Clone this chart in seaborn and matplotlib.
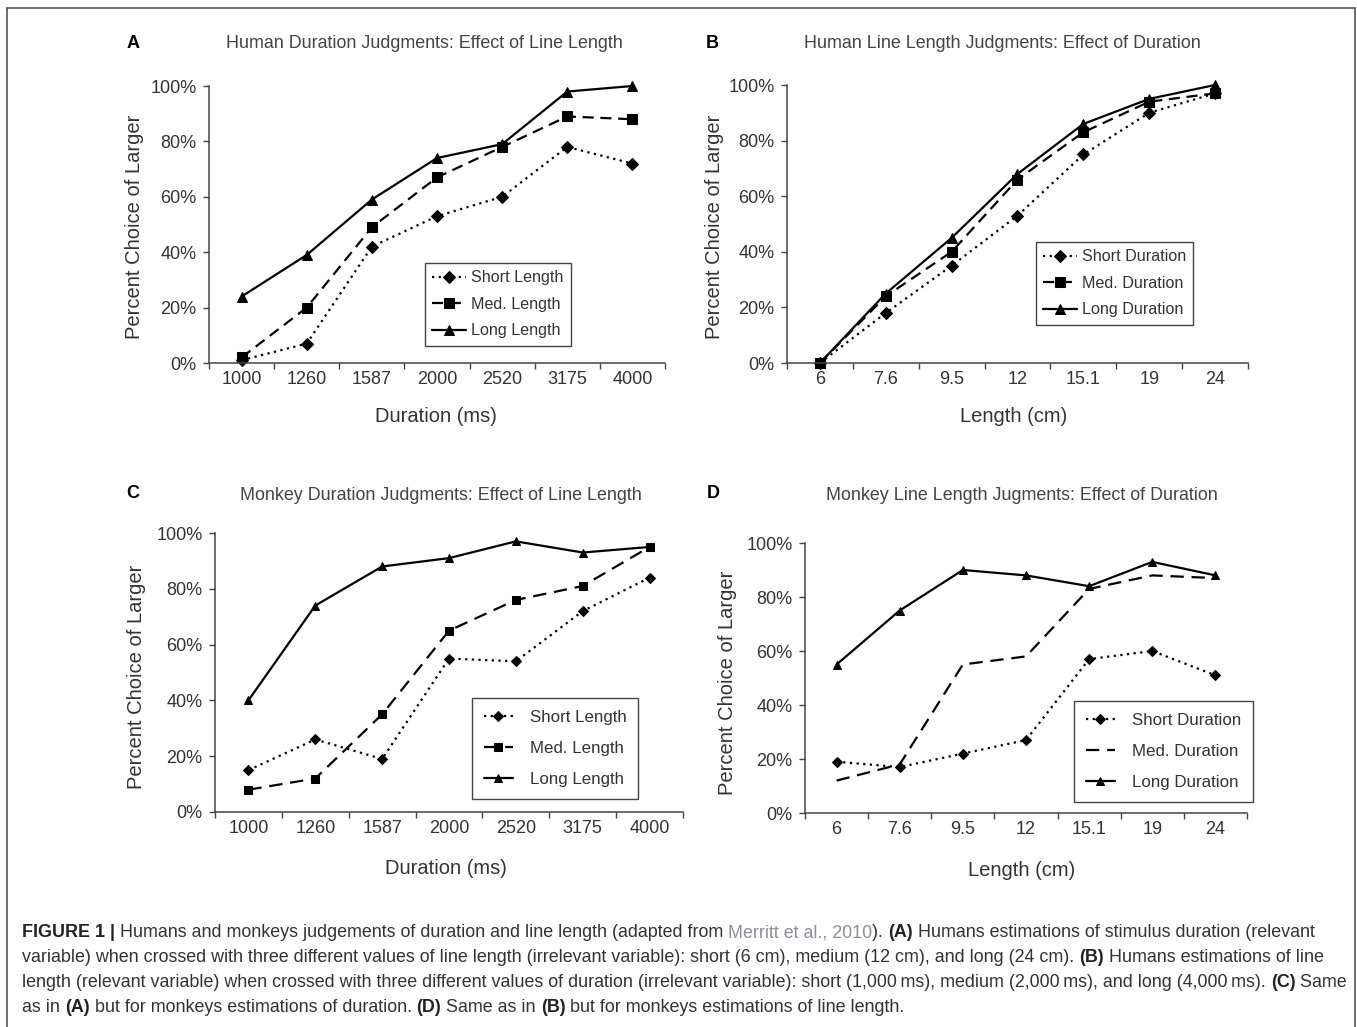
import matplotlib
matplotlib.use('Agg')
import matplotlib.pyplot as plt
import seaborn as sns
import numpy as np
from matplotlib.ticker import PercentFormatter
from matplotlib.lines import Line2D

# Data (percent choice of "larger")
duration_ticks = ['1000', '1260', '1587', '2000', '2520', '3175', '4000']
length_ticks = ['6', '7.6', '9.5', '12', '15.1', '19', '24']

# A: human duration judgments
a_short = [1, 7, 42, 53, 60, 78, 72]
a_med = [2, 20, 49, 67, 78, 89, 88]
a_long = [24, 39, 59, 74, 79, 98, 100]
# B: human line length judgments
b_short = [0, 18, 35, 53, 75, 90, 97]
b_med = [0, 24, 40, 66, 83, 94, 97]
b_long = [0, 25, 45, 68, 86, 95, 100]
# C: monkey duration judgments
c_short = [15, 26, 19, 55, 54, 72, 84]
c_med = [8, 12, 35, 65, 76, 81, 95]
c_long = [40, 74, 88, 91, 97, 93, 95]
# D: monkey line length judgments
d_short = [19, 17, 22, 27, 57, 60, 51]
d_med = [12, 18, 55, 58, 83, 88, 87]
d_long = [55, 75, 90, 88, 84, 93, 88]

length_names = ['Short Length', 'Med. Length', 'Long Length']
duration_names = ['Short Duration', 'Med. Duration', 'Long Duration']

W, H = 1357, 1027
sns.set_style('ticks')
plt.rcParams['font.family'] = ['Liberation Sans', 'DejaVu Sans']

fig = plt.figure(figsize=(W / 100, H / 100), dpi=100)
fig.patch.set_facecolor('white')

TXT = '#333333'
DOT = (0, (1, 2))
DASH = (0, (5, 3))
LDASH = (0, (6, 3.5))


def fx(x):
    return x / W


def fy(y):
    return 1 - y / H


def draw_panel(box, ticks, series, letter, title, title_xy, letter_xy,
               xlabel, xlabel_xy, ylabel_xy, leg_xy, leg_style):
    l, t, r, b = box
    ax = fig.add_axes([fx(l), fy(b), (r - l) / W, (b - t) / H])
    x = list(range(len(ticks)))
    for name, vals, marker, ls, ms in series:
        kw = dict(marker=marker, markersize=ms) if marker else dict()
        sns.lineplot(x=x, y=vals, ax=ax, color='black', lw=1.6,
                     linestyle=ls, label=name, markeredgecolor='black',
                     clip_on=False, **kw)
    ax.set_xlim(-0.5, len(ticks) - 0.5)
    ax.set_ylim(0, 100)
    ax.set_yticks(range(0, 101, 20))
    ax.yaxis.set_major_formatter(PercentFormatter(100, decimals=0))
    ax.set_xticks(np.arange(-0.5, len(ticks), 1))
    ax.set_xticklabels([])
    ax.set_xticks(x, minor=True)
    ax.set_xticklabels(ticks, minor=True)
    ax.tick_params(axis='x', which='major', length=4, width=1,
                   color='#444444', direction='out')
    ax.tick_params(axis='x', which='minor', length=0, pad=6,
                   labelsize=13, labelcolor=TXT)
    ax.tick_params(axis='y', length=4, width=1, color='#444444', pad=5,
                   labelsize=13, labelcolor=TXT)
    for s in ['top', 'right']:
        ax.spines[s].set_visible(False)
    for s in ['left', 'bottom']:
        ax.spines[s].set_color('#444444')
        ax.spines[s].set_linewidth(1.1)
    ax.set_xlabel('')
    ax.set_ylabel('')

    fig.text(fx(letter_xy[0]), fy(letter_xy[1]), letter, fontsize=13,
             fontweight='bold', color='black', ha='left', va='center')
    fig.text(fx(title_xy[0]), fy(title_xy[1]), title, fontsize=12.9,
             color='#444444', ha='center', va='center')
    fig.text(fx(xlabel_xy[0]), fy(xlabel_xy[1]), xlabel, fontsize=14.5,
             color=TXT, ha='center', va='center')
    fig.text(fx(ylabel_xy[0]), fy(ylabel_xy[1]), 'Percent Choice of Larger',
             fontsize=14.5, color=TXT, ha='center', va='center', rotation=90)

    if leg_style == 'tight':
        opts = dict(fontsize=11.6, handlelength=2.1, handletextpad=0.3,
                    labelspacing=0.72, borderpad=0.45, borderaxespad=0)
    else:
        opts = dict(fontsize=12.2, handlelength=1.7, handletextpad=1.0,
                    labelspacing=0.95, borderpad=0.7, borderaxespad=0)
    leg = ax.legend(loc='upper left', bbox_to_anchor=(fx(leg_xy[0]), fy(leg_xy[1])),
                    bbox_transform=fig.transFigure, frameon=True,
                    fancybox=False, framealpha=1, edgecolor='#444444', **opts)
    leg.get_frame().set_linewidth(1.0)
    for txt in leg.get_texts():
        txt.set_color(TXT)
    return ax


draw_panel((209, 86, 665, 363), duration_ticks,
           [(length_names[0], a_short, 'D', DOT, 6),
            (length_names[1], a_med, 's', DASH, 7),
            (length_names[2], a_long, '^', '-', 7.5)],
           'A', 'Human Duration Judgments: Effect of Line Length',
           (424, 43), (127, 43), 'Duration (ms)', (436, 417), (134, 227),
           (425, 263), 'tight')

draw_panel((787, 85, 1248, 363), length_ticks,
           [(duration_names[0], b_short, 'D', DOT, 6),
            (duration_names[1], b_med, 's', DASH, 7),
            (duration_names[2], b_long, '^', '-', 7.5)],
           'B', 'Human Line Length Judgments: Effect of Duration',
           (1002, 43), (706, 43), 'Length (cm)', (1014, 417), (714, 227),
           (1036, 242), 'tight')

draw_panel((215, 533, 683, 812), duration_ticks,
           [(length_names[0], c_short, 'D', DOT, 5),
            (length_names[1], c_med, 's', LDASH, 5.5),
            (length_names[2], c_long, '^', '-', 6)],
           'C', 'Monkey Duration Judgments: Effect of Line Length',
           (441, 495), (126, 493), 'Duration (ms)', (446, 868), (136, 677),
           (472, 698), 'wide')

draw_panel((805, 543, 1247, 813), length_ticks,
           [(duration_names[0], d_short, 'D', DOT, 5),
            (duration_names[1], d_med, None, LDASH, 0),
            (duration_names[2], d_long, '^', '-', 6)],
           'D', 'Monkey Line Length Jugments: Effect of Duration',
           (1022, 496), (707, 493), 'Length (cm)', (1022, 870), (727, 683),
           (1074, 701), 'wide')

# outer frame (open at the bottom, like the cropped original)
for xs, ys in [((7, 7), (8, H + 5)), ((7, 1355), (8, 8)), ((1355, 1355), (8, H + 5))]:
    fig.add_artist(Line2D([fx(v) for v in xs], [fy(v) for v in ys],
                          color='#555555', lw=1.2, transform=fig.transFigure))

# caption with mixed weights
renderer = fig.canvas.get_renderer()
CAP_SIZE = 12.85
LINK = '#8a9099'


def seg_width(text, weight):
    a = fig.text(0, 0, text + '.', fontsize=CAP_SIZE, fontweight=weight)
    b = fig.text(0, 0, '.', fontsize=CAP_SIZE, fontweight=weight)
    w = a.get_window_extent(renderer).width - b.get_window_extent(renderer).width
    a.remove()
    b.remove()
    return w


def caption_line(y, parts):
    x = 22
    for text, weight, color in parts:
        fig.text(fx(x), fy(y), text, fontsize=CAP_SIZE, fontweight=weight,
                 color=color, ha='left', va='baseline')
        x += seg_width(text, weight)


N, B = 'normal', 'bold'
caption_line(937, [('FIGURE 1 | ', B, '#222222'),
                   ('Humans and monkeys judgements of duration and line length (adapted from ', N, TXT),
                   ('Merritt et al., 2010', N, LINK), ('). ', N, TXT), ('(A)', B, '#222222'),
                   (' Humans estimations of stimulus duration (relevant', N, TXT)])
caption_line(962, [('variable) when crossed with three different values of line length (irrelevant variable): '
                    'short (6 cm), medium (12 cm), and long (24 cm). ', N, TXT), ('(B)', B, '#222222'),
                   (' Humans estimations of line', N, TXT)])
caption_line(987, [('length (relevant variable) when crossed with three different values of duration (irrelevant '
                    'variable): short (1,000\u2009ms), medium (2,000\u2009ms), and long (4,000\u2009ms). ', N, TXT),
                   ('(C)', B, '#222222'), (' Same', N, TXT)])
caption_line(1012, [('as in ', N, TXT), ('(A)', B, '#222222'),
                    (' but for monkeys estimations of duration. ', N, TXT), ('(D)', B, '#222222'),
                    (' Same as in ', N, TXT), ('(B)', B, '#222222'),
                    (' but for monkeys estimations of line length.', N, TXT)])

fig.savefig('out.png', dpi=100, facecolor='white')
